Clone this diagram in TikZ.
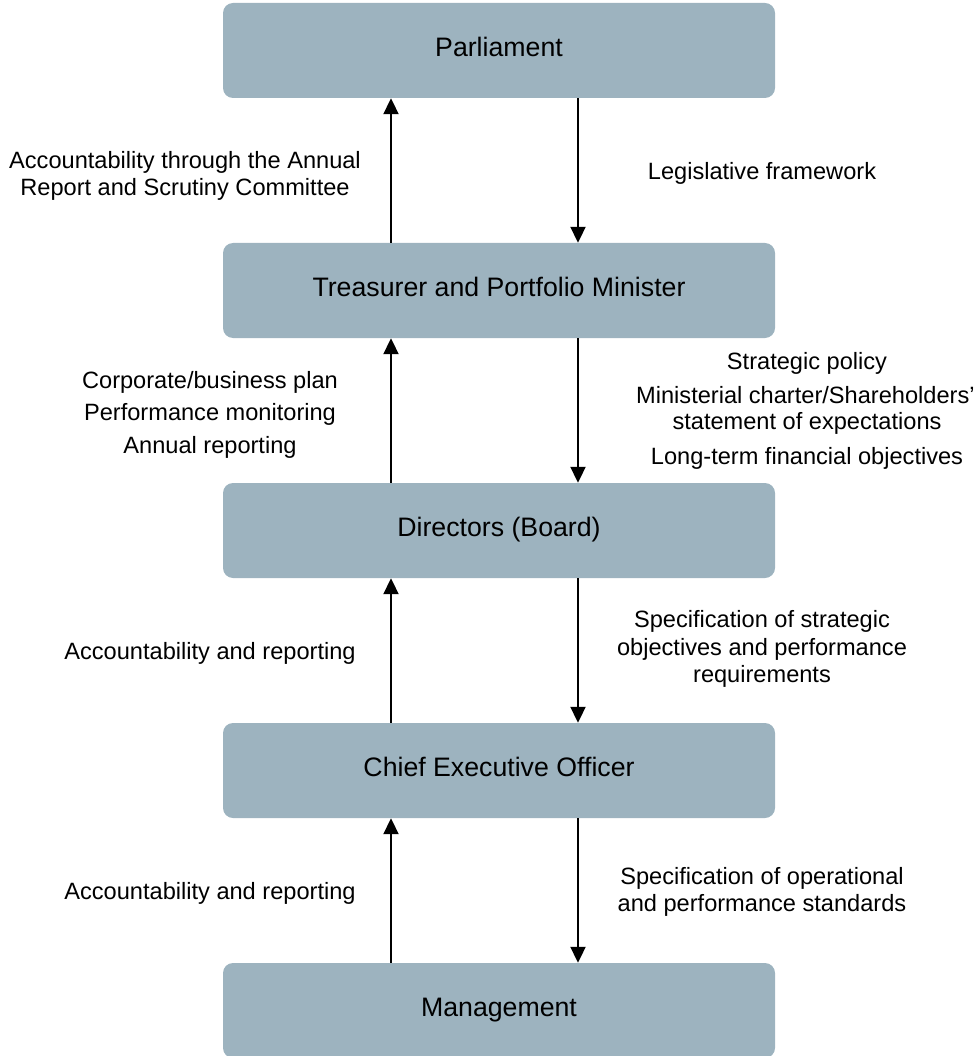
\documentclass[tikz,border=0pt]{standalone}
\usepackage{fontspec}
\setmainfont{Liberation Sans}
\usetikzlibrary{arrows.meta}
\definecolor{boxblue}{RGB}{157,179,191}
\tikzset{
  level/.style={rectangle, rounded corners=10pt, fill=boxblue, draw=none,
    minimum width=552pt, minimum height=95pt, inner sep=0pt,
    text height=18.6pt, text depth=7pt,
    font=\fontsize{26.7}{30}\selectfont, text=black},
  lbl/.style={align=center, inner sep=0pt, font=\fontsize{23.6}{27.2}\selectfont, text=black},
  flow/.style={line width=2pt, -{Triangle[width=15pt,length=16pt]}},
}
\begin{document}
\begin{tikzpicture}[x=1pt,y=-1pt]
\useasboundingbox (0,0) rectangle (977,1056);

% governance levels
\node[level] (par) at (499,50.5)  {Parliament};
\node[level] (tre) at (499,290.5) {Treasurer and Portfolio Minister};
\node[level] (dir) at (499,530.5) {Directors (Board)};
\node[level] (ceo) at (499,770.5) {Chief Executive Officer};
\node[level] (mgt) at (499,1010.5) {Management};

% accountability flows upwards, direction flows downwards
\foreach \lo/\hi in {tre/par, dir/tre, ceo/dir, mgt/ceo} {
  \draw[flow] ([xshift=-108pt]\lo.north) -- ([xshift=-108pt]\hi.south);
  \draw[flow] ([xshift=79pt]\hi.south) -- ([xshift=79pt]\lo.north);
}

% labels
\node[lbl] (l1) at (185,175.5) {Accountability through the Annual\\Report and Scrutiny Committee};
\node[lbl] (r1) at (762,173) {Legislative framework};
\node[lbl] (l2) at (210,415) {Corporate/business plan\\[5pt]Performance monitoring\\[6pt]Annual reporting};
\node[lbl, anchor=west] (r2b) at (636,395) {Ministerial charter/Shareholders'};
\node[lbl] (r2a) at (807,363) {Strategic policy};
\node[lbl] (r2c) at (807,423) {statement of expectations};
\node[lbl] (r2d) at (807,458) {Long-term financial objectives};
\node[lbl] (l3) at (210,653) {Accountability and reporting};
\node[lbl] (r3) at (762,649) {Specification of strategic\\objectives and performance\\requirements};
\node[lbl] (l4) at (210,893) {Accountability and reporting};
\node[lbl] (r4) at (762,891.5) {Specification of operational\\and performance standards};
\end{tikzpicture}
\end{document}
